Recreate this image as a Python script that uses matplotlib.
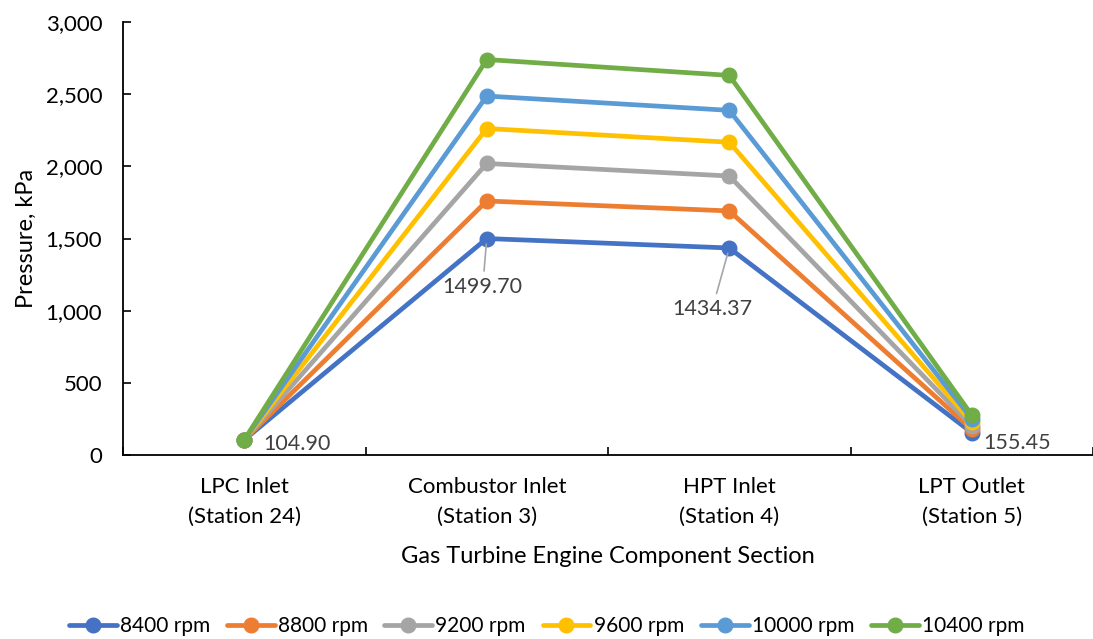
import matplotlib
matplotlib.use("Agg")
import matplotlib.pyplot as plt
from matplotlib.ticker import FuncFormatter, MultipleLocator

plt.rcParams['font.family'] = ['Lato', 'DejaVu Sans']

stations = ["LPC Inlet\n(Station 24)", "Combustor Inlet\n(Station 3)",
            "HPT Inlet\n(Station 4)", "LPT Outlet\n(Station 5)"]
speeds = ["8400 rpm", "8800 rpm", "9200 rpm", "9600 rpm", "10000 rpm", "10400 rpm"]

p_8400 = [104.90, 1499.70, 1434.37, 155.45]
p_8800 = [105.0, 1760, 1691, 178]
p_9200 = [105.0, 2020, 1933, 202]
p_9600 = [105.0, 2262, 2167, 226]
p_10000 = [105.0, 2487, 2388, 251]
p_10400 = [105.0, 2740, 2630, 277]
series = [p_8400, p_8800, p_9200, p_9600, p_10000, p_10400]

colors = ["#4472C4", "#ED7D31", "#A5A5A5", "#FFC000", "#5B9BD5", "#70AD47"]

fig = plt.figure(figsize=(10.93, 6.39), dpi=100)
ax = fig.add_axes([123 / 1093, 1 - 455 / 639, 970 / 1093, 433 / 639])

x = list(range(len(stations)))
for vals, c, name in zip(series, colors, speeds):
    ax.plot(x, vals, color=c, lw=3.4, marker='o', ms=10.5, label=name,
            solid_capstyle='round', solid_joinstyle='round')

ax.set_xlim(-0.5, 3.5)
ax.set_ylim(0, 3000)
ax.yaxis.set_major_locator(MultipleLocator(500))
ax.yaxis.set_major_formatter(FuncFormatter(lambda v, _: f"{v:,.0f}"))
ax.set_xticks(x)
ax.set_xticklabels(stations, linespacing=1.6)
ax.set_xticks([-0.5, 0.5, 1.5, 2.5, 3.5], minor=True)
ax.tick_params(axis='x', which='major', length=0, pad=16, labelsize=16)
ax.tick_params(axis='x', which='minor', direction='in', length=6, width=1.2)
ax.tick_params(axis='y', direction='in', length=6, width=1.2, labelsize=16, pad=15)

for side in ['top', 'right']:
    ax.spines[side].set_visible(False)
for side in ['left', 'bottom']:
    ax.spines[side].set_linewidth(1.3)
    ax.spines[side].set_color('black')

ax.set_ylabel("Pressure, kPa", fontsize=17, labelpad=6)
ax.set_xlabel("Gas Turbine Engine Component Section", fontsize=17, labelpad=14)

label_color = "#404040"
lead = dict(arrowstyle='-', color='#A6A6A6', lw=1.2, shrinkA=2, shrinkB=4)
ax.annotate(f"{p_8400[0]:.2f}", (0, p_8400[0]), xytext=(19, -4),
            textcoords='offset pixels', ha='left', va='center',
            fontsize=15.5, color=label_color)
ax.annotate(f"{p_8400[1]:.2f}", (1, p_8400[1]), xytext=(-4, -48),
            textcoords='offset pixels', ha='center', va='center',
            fontsize=15.5, color=label_color, arrowprops=lead)
ax.annotate(f"{p_8400[2]:.2f}", (2, p_8400[2]), xytext=(-17, -61),
            textcoords='offset pixels', ha='center', va='center',
            fontsize=15.5, color=label_color, arrowprops=lead)
ax.annotate(f"{p_8400[3]:.2f}", (3, p_8400[3]), xytext=(12, -10),
            textcoords='offset pixels', ha='left', va='center',
            fontsize=15.5, color=label_color)

fig.legend(loc='center', bbox_to_anchor=(0.5, 1 - 626 / 639), ncol=6,
           frameon=False, fontsize=15, handlelength=2.3, handletextpad=0.15,
           columnspacing=0.8)

fig.savefig("out.png", dpi=100)
